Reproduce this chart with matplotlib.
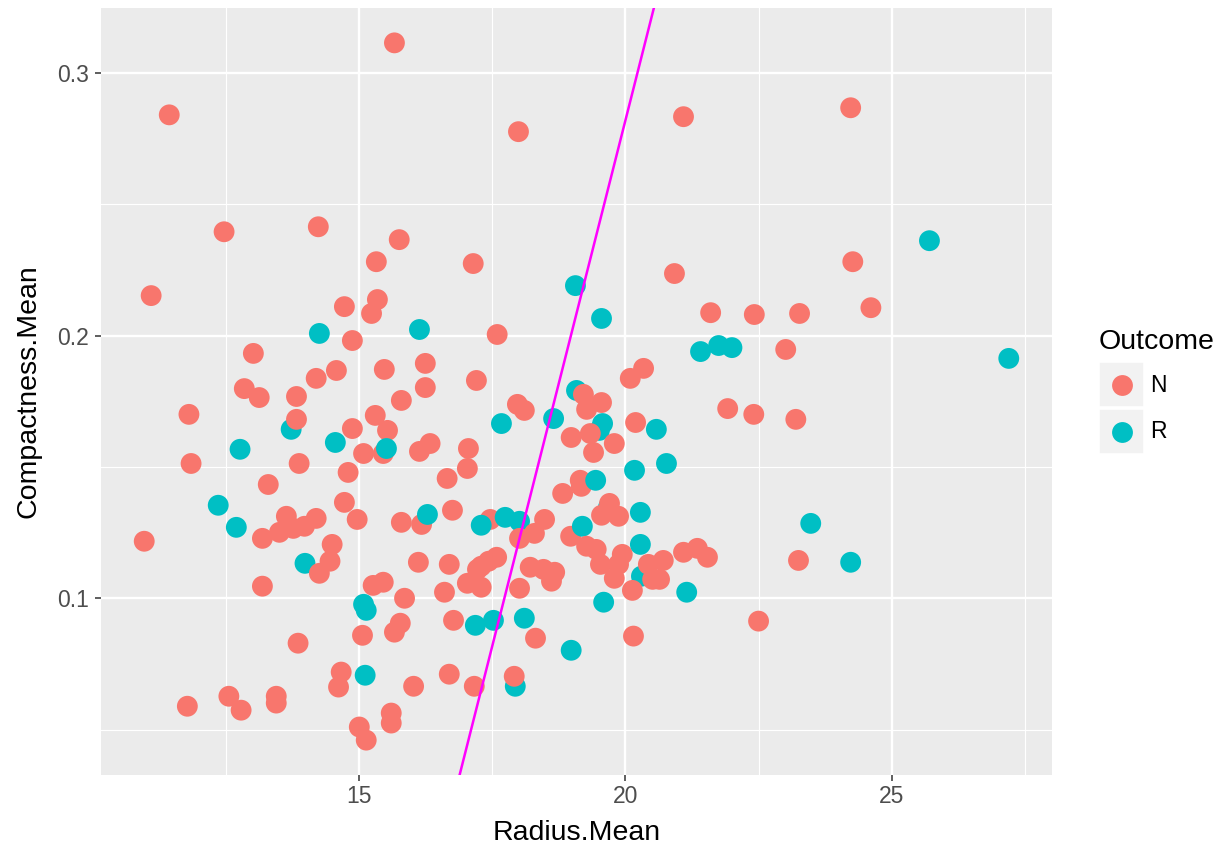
import matplotlib
matplotlib.use("Agg")
import matplotlib.pyplot as plt
from matplotlib.patches import Rectangle
from matplotlib.ticker import FixedLocator

plt.rcParams['font.family'] = ['Liberation Sans', 'DejaVu Sans']

# ---- data ----
radius = [15.66, 11.43, 21.09, 24.23, 17.99, 12.46, 14.23, 15.75, 15.32, 17.14,
          20.92, 24.27, 25.71, 11.09, 24.61, 19.06, 14.72, 15.34, 15.23, 14.25,
          16.13, 17.59, 14.87, 13.01, 14.57, 14.19, 15.47, 16.24, 16.24, 17.20,
          12.84, 13.12, 13.82, 15.79, 17.97, 18.10, 11.80, 13.72, 13.82, 15.30,
          14.87, 15.53, 14.55, 17.67, 12.76, 11.84, 13.87, 15.08, 15.45, 15.51,
          16.13, 16.33, 17.05, 17.03, 14.79, 16.65, 13.29, 14.72, 12.35, 13.63,
          14.19, 12.69, 14.96, 15.79, 16.17, 16.28, 16.75, 17.46, 17.29, 17.74,
          18.01, 10.96, 13.18, 13.50, 13.76, 13.97, 14.49, 14.45, 13.98, 14.25,
          13.18, 13.85, 14.66, 14.61, 11.77, 12.55, 12.78, 13.44, 13.44, 18.29,
          18.01, 18.48, 18.97, 16.11, 16.69, 17.29, 17.58, 17.43, 17.22, 17.03,
          17.29, 18.21, 18.46, 18.67, 18.61, 18.01, 15.26, 15.45, 15.85, 16.60,
          15.08, 15.13, 15.77, 15.66, 15.06, 16.77, 17.18, 17.52, 18.10, 18.31,
          18.98, 15.11, 16.02, 16.69, 17.16, 17.93, 17.91, 15.60, 15.60, 15.00,
          15.13, 19.55, 21.60, 22.42, 23.27, 21.41, 21.75, 22.00, 23.01, 20.34,
          20.09, 19.08, 19.21, 19.55, 19.27, 21.92, 22.41, 23.20, 19.57, 19.51,
          20.19, 20.58, 18.98, 19.34, 19.40, 19.79, 20.17, 20.77, 19.15, 19.17,
          18.82, 19.44, 19.68, 19.70, 19.55, 19.87, 20.28, 19.19, 23.48, 19.27,
          19.45, 19.53, 19.94, 19.87, 19.79, 20.28, 20.30, 20.43, 20.71, 20.51,
          20.64, 21.09, 21.35, 21.54, 20.13, 21.15, 19.59, 23.25, 22.50, 20.15,
          24.23, 27.20, 18.65]

compactness = [0.3114, 0.2840, 0.2833, 0.2867, 0.2776, 0.2395, 0.2414, 0.2365, 0.2281, 0.2274,
               0.2236, 0.2281, 0.2361, 0.2152, 0.2106, 0.2190, 0.2110, 0.2137, 0.2084, 0.2008,
               0.2023, 0.2004, 0.1981, 0.1932, 0.1867, 0.1837, 0.1871, 0.1894, 0.1802, 0.1829,
               0.1798, 0.1764, 0.1768, 0.1753, 0.1738, 0.1715, 0.1700, 0.1643, 0.1681, 0.1696,
               0.1646, 0.1639, 0.1593, 0.1665, 0.1567, 0.1513, 0.1513, 0.1551, 0.1551, 0.1570,
               0.1559, 0.1589, 0.1570, 0.1494, 0.1479, 0.1456, 0.1433, 0.1365, 0.1354, 0.1312,
               0.1304, 0.1270, 0.1300, 0.1289, 0.1281, 0.1319, 0.1335, 0.1300, 0.1278, 0.1308,
               0.1293, 0.1217, 0.1228, 0.1251, 0.1266, 0.1274, 0.1205, 0.1141, 0.1133, 0.1095,
               0.1046, 0.0829, 0.0719, 0.0662, 0.0589, 0.0627, 0.0574, 0.0627, 0.0601, 0.1247,
               0.1228, 0.1300, 0.1236, 0.1137, 0.1129, 0.1122, 0.1156, 0.1141, 0.1110, 0.1057,
               0.1042, 0.1118, 0.1110, 0.1099, 0.1065, 0.1038, 0.1049, 0.1061, 0.1000, 0.1023,
               0.0977, 0.0954, 0.0905, 0.0871, 0.0859, 0.0916, 0.0897, 0.0916, 0.0924, 0.0848,
               0.0802, 0.0707, 0.0665, 0.0711, 0.0665, 0.0665, 0.0703, 0.0563, 0.0525, 0.0510,
               0.0460, 0.2065, 0.2087, 0.2080, 0.2084, 0.1939, 0.1962, 0.1954, 0.1947, 0.1875,
               0.1837, 0.1791, 0.1776, 0.1745, 0.1719, 0.1722, 0.1700, 0.1681, 0.1665, 0.1639,
               0.1669, 0.1643, 0.1612, 0.1627, 0.1555, 0.1589, 0.1487, 0.1513, 0.1449, 0.1426,
               0.1399, 0.1449, 0.1346, 0.1361, 0.1316, 0.1312, 0.1327, 0.1274, 0.1285, 0.1198,
               0.1186, 0.1129, 0.1167, 0.1129, 0.1076, 0.1205, 0.1084, 0.1129, 0.1144, 0.1072,
               0.1072, 0.1175, 0.1190, 0.1156, 0.1030, 0.1023, 0.0985, 0.1144, 0.0913, 0.0856,
               0.1137, 0.1913, 0.1684]

outcome = ['N', 'N', 'N', 'N', 'N', 'N', 'N', 'N', 'N', 'N',
           'N', 'N', 'R', 'N', 'N', 'R', 'N', 'N', 'N', 'R',
           'R', 'N', 'N', 'N', 'N', 'N', 'N', 'N', 'N', 'N',
           'N', 'N', 'N', 'N', 'N', 'N', 'N', 'R', 'N', 'N',
           'N', 'N', 'R', 'R', 'R', 'N', 'N', 'N', 'N', 'R',
           'N', 'N', 'N', 'N', 'N', 'N', 'N', 'N', 'R', 'N',
           'N', 'R', 'N', 'N', 'N', 'R', 'N', 'N', 'R', 'R',
           'R', 'N', 'N', 'N', 'N', 'N', 'N', 'N', 'R', 'N',
           'N', 'N', 'N', 'N', 'N', 'N', 'N', 'N', 'N', 'N',
           'N', 'N', 'N', 'N', 'N', 'N', 'N', 'N', 'N', 'N',
           'N', 'N', 'N', 'N', 'N', 'N', 'N', 'N', 'N', 'N',
           'R', 'R', 'N', 'N', 'N', 'N', 'R', 'R', 'R', 'N',
           'R', 'R', 'N', 'N', 'N', 'R', 'N', 'N', 'N', 'N',
           'N', 'R', 'N', 'N', 'N', 'R', 'R', 'R', 'N', 'N',
           'N', 'R', 'N', 'N', 'N', 'N', 'N', 'N', 'R', 'R',
           'N', 'R', 'N', 'N', 'N', 'N', 'R', 'R', 'N', 'N',
           'N', 'R', 'R', 'N', 'N', 'N', 'R', 'R', 'R', 'N',
           'N', 'N', 'N', 'N', 'N', 'R', 'R', 'N', 'N', 'N',
           'N', 'N', 'N', 'N', 'N', 'R', 'R', 'N', 'N', 'N',
           'R', 'R', 'R']

line_intercept = -1.318
line_slope = 0.08

x_major = [15, 20, 25]
x_minor = [12.5, 17.5, 22.5, 27.5]
y_major = [0.1, 0.2, 0.3]
y_minor = [0.05, 0.15, 0.25]
y_major_labels = ['0.1', '0.2', '0.3']

palette = {'N': '#F8766D', 'R': '#00BFC4'}

# ---- figure ----
W, H = 1222, 847
fig = plt.figure(figsize=(W / 100, H / 100), dpi=100)
L, R_, T, B = 101, 1052, 8, 775
ax = fig.add_axes([L / W, (H - B) / H, (R_ - L) / W, (B - T) / H])
ax.set_facecolor('#EBEBEB')
for s in ax.spines.values():
    s.set_visible(False)

colors = [palette[o] for o in outcome]
ax.scatter(radius, compactness, c=colors, s=225, linewidths=0, zorder=3)
ax.axline((0, line_intercept), slope=line_slope, color='#FF00FF', lw=1.8, zorder=4)

# ggplot-like expansion
xr = max(radius) - min(radius)
yr = max(compactness) - min(compactness)
ax.set_xlim(min(radius) - 0.05 * xr, max(radius) + 0.05 * xr)
ax.set_ylim(min(compactness) - 0.05 * yr, max(compactness) + 0.05 * yr)

ax.xaxis.set_major_locator(FixedLocator(x_major))
ax.xaxis.set_minor_locator(FixedLocator(x_minor))
ax.yaxis.set_major_locator(FixedLocator(y_major))
ax.yaxis.set_minor_locator(FixedLocator(y_minor))
ax.set_xticklabels([str(v) for v in x_major])
ax.set_yticklabels(y_major_labels)

ax.grid(which='major', color='white', lw=1.7, zorder=1)
ax.grid(which='minor', color='white', lw=0.85, zorder=1)
ax.set_axisbelow(True)

ax.tick_params(which='major', length=4, width=1.1, color='#333333',
               labelsize=16.5, labelcolor='#4D4D4D', pad=3)
ax.tick_params(axis='y', which='major', pad=5)
ax.tick_params(which='minor', length=0)

ax.set_xlabel('Radius.Mean', fontsize=20.5, color='black', labelpad=9)
ax.set_ylabel('Compactness.Mean', fontsize=20.5, color='black', labelpad=11)

# ---- legend (ggplot style) ----
lg = fig.add_axes([0, 0, 1, 1], facecolor='none')
lg.set_xlim(0, W)
lg.set_ylim(H, 0)
lg.axis('off')
lg.text(1099, 342, 'Outcome', fontsize=20.5, color='black', va='center', ha='left')
key_centers = [385, 432]
for lab, cy in zip(['N', 'R'], key_centers):
    lg.add_patch(Rectangle((1099, cy - 22.5), 45, 45, facecolor='#F2F2F2',
                           edgecolor='white', lw=1.2))
    lg.scatter([1121.5], [cy], s=225, color=palette[lab], linewidths=0)
    lg.text(1150, cy, lab, fontsize=16.5, color='black', va='center', ha='left')

fig.savefig('out.png', dpi=100)
